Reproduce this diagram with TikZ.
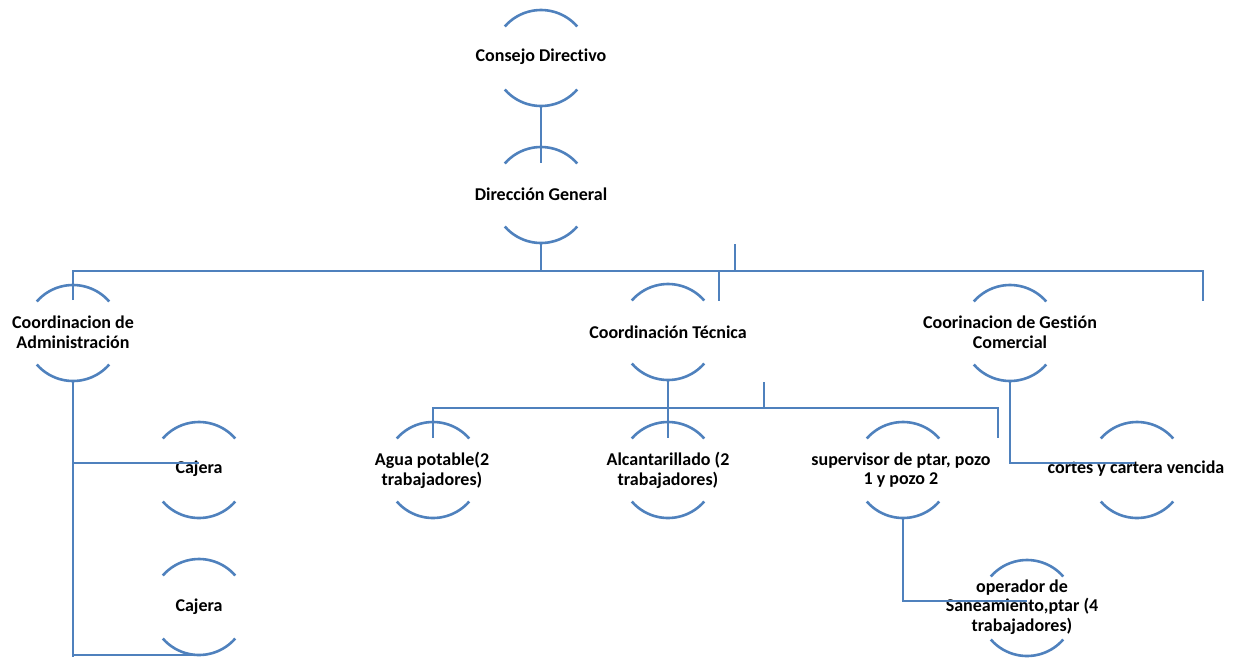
\documentclass[tikz,border=0pt]{standalone}
\usepackage{fontspec}
\setmainfont{Carlito}[Ligatures=NoCommon]
\definecolor{lineblue}{RGB}{79,129,189}
\tikzset{
  conn/.style={draw=lineblue, line width=2.6pt},
  arcline/.style={draw=lineblue, line width=2.6pt},
  orb/.style={circle, minimum size=96pt, inner sep=0pt, draw=none},
  lbl/.style={font=\bfseries\fontsize{18}{19.8}\selectfont, align=center, inner sep=0pt, text=black},
  arcs/.pic={
    \draw[arcline] (41:48) arc[start angle=41, end angle=139, radius=48];
    \draw[arcline] (-41:48) arc[start angle=-41, end angle=-139, radius=48];
  }
}
\begin{document}
\begin{tikzpicture}[x=1pt, y=1pt]
\useasboundingbox (0,0) rectangle (1237,-657);
% circle nodes
\foreach \n/\px/\py in {cd/541/58, dg/541/195, adm/73/333, tec/668/332, com/1010/333,
  caj1/199/470, caj2/199/607, agua/433/470, alc/668/470, sup/903/470, cor/1137/470, ope/1027/608}{
  \node[orb] (\n) at (\px,-\py) {};
  \pic at (\px,-\py) {arcs};
}
% labels
\node[lbl] (cdT) at (541,-57) {Consejo Directivo};
\node[lbl] (dgT) at (541,-194) {Dirección General};
\node[lbl] (admT) at (73,-332) {Coordinacion de\\Administración};
\node[lbl] (tecT) at (668,-332) {Coordinación Técnica};
\node[lbl] (comT) at (1010,-332) {Coorinacion de Gestión\\Comercial};
\node[lbl] (caj1T) at (199,-469) {Cajera};
\node[lbl] (caj2T) at (199,-607) {Cajera};
\node[lbl] (aguaT) at (432,-470) {Agua potable(2\\trabajadores)};
\node[lbl] (alcT) at (668,-470) {Alcantarillado (2\\trabajadores)};
\node[lbl] (supT) at (901,-470) {supervisor de ptar, pozo\\1 y pozo 2};
\node[lbl] (corT) at (1136,-469) {cortes y cartera vencida};
\node[lbl] (opeT) at (1022,-607) {operador de\\Saneamiento,ptar (4\\trabajadores)};
% free-end coordinates
\coordinate (dgIn) at (541,-163);
\coordinate (busA) at (541,-271);
\coordinate (busL) at (73,-271);
\coordinate (busR) at (1203,-271);
\coordinate (busRd) at (1203,-301);
\coordinate (admIn) at (73,-300);
\coordinate (tecTop) at (719,-271);
\coordinate (tecIn) at (719,-301);
\coordinate (stubA) at (735,-244);
\coordinate (stubAb) at (735,-271);
\coordinate (busB) at (668,-408);
\coordinate (busBL) at (433,-408);
\coordinate (busBR) at (998,-408);
\coordinate (aguaIn) at (433,-438);
\coordinate (alcIn) at (668,-438);
\coordinate (supIn) at (998,-438);
\coordinate (stubB) at (764,-382);
\coordinate (stubBb) at (764,-408);
\coordinate (admEnd) at (73,-657);
\coordinate (admJ1) at (73,-463);
\coordinate (caj1In) at (199,-463);
\coordinate (admJ2) at (73,-655);
\coordinate (caj2In) at (199,-655);
\coordinate (comJ) at (1010,-463);
\coordinate (corIn) at (1135,-463);
\coordinate (supJ) at (903,-601);
\coordinate (opeIn) at (1027,-601);
% connectors
\draw[conn] (cd.south) -- (dgIn);
\draw[conn] (dg.south) -- (busA);
\draw[conn] (admIn) -- (busL) -- (busR) -- (busRd);
\draw[conn] (tecTop) -- (tecIn);
\draw[conn] (stubA) -- (stubAb);
\draw[conn] (tec.south) -- (busB);
\draw[conn] (aguaIn) -- (busBL) -- (busBR) -- (supIn);
\draw[conn] (busB) -- (alcIn);
\draw[conn] (stubB) -- (stubBb);
\draw[conn] (adm.south) -- (admEnd);
\draw[conn] (admJ1) -- (caj1In);
\draw[conn] (admJ2) -- (caj2In);
\draw[conn] (com.south) -- (comJ) -- (corIn);
\draw[conn] (sup.south) -- (supJ) -- (opeIn);
\end{tikzpicture}
\end{document}
